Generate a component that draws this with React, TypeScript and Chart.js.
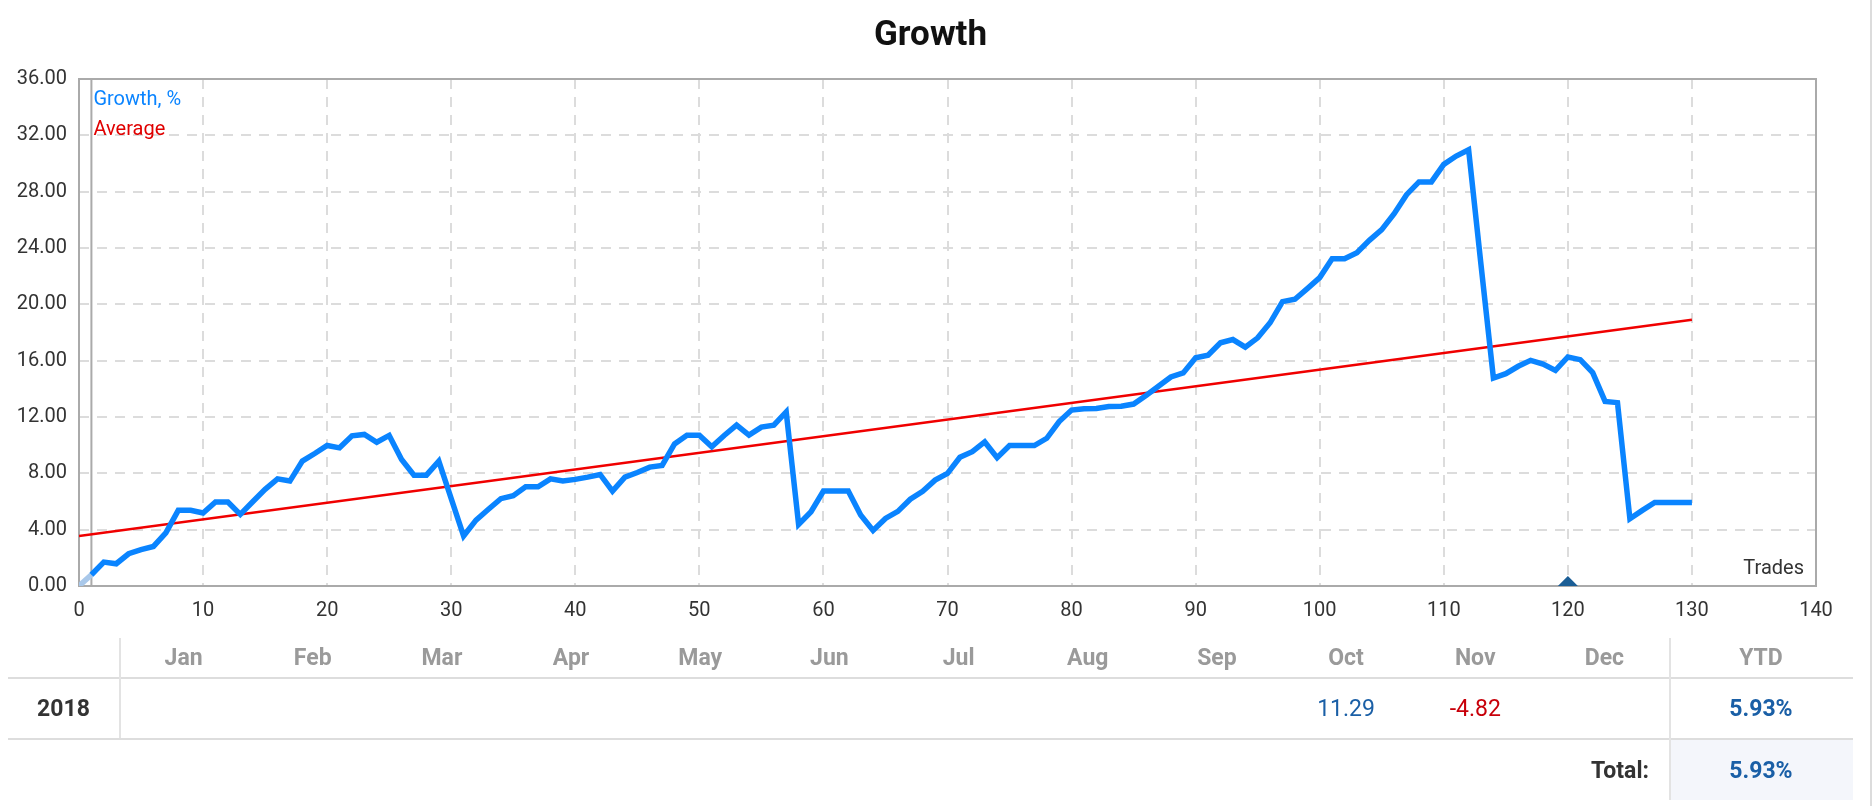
import React, { useEffect, useRef } from "react";
import { Chart, registerables } from "chart.js";

Chart.register(...registerables);

// ---------- data ----------
const chartTitle = "Growth";
const growthLabel = "Growth, %";
const averageLabel = "Average";
const xAxisLabel = "Trades";

const growth: number[] = [
  0, 0.8, 1.7, 1.58, 2.29, 2.58, 2.81, 3.78, 5.37, 5.37,
  5.18, 5.96, 5.96, 5.08, 5.98, 6.86, 7.61, 7.45, 8.87, 9.41,
  9.98, 9.81, 10.66, 10.76, 10.21, 10.69, 8.98, 7.87, 7.87, 8.87,
  6.2, 3.55, 4.68, 5.45, 6.2, 6.41, 7.04, 7.04, 7.61, 7.45,
  7.57, 7.73, 7.92, 6.74, 7.73, 8.06, 8.44, 8.56, 10.09, 10.71,
  10.71, 9.88, 10.69, 11.42, 10.71, 11.28, 11.42, 12.36, 4.37, 5.27,
  6.74, 6.74, 6.74, 5.04, 3.95, 4.8, 5.3, 6.16, 6.73, 7.52,
  7.99, 9.14, 9.54, 10.23, 9.11, 9.97, 9.97, 9.97, 10.49, 11.68,
  12.49, 12.58, 12.6, 12.75, 12.77, 12.92, 13.53, 14.18, 14.84, 15.13,
  16.2, 16.39, 17.27, 17.5, 16.96, 17.62, 18.69, 20.19, 20.36, 21.12,
  21.9, 23.24, 23.24, 23.67, 24.54, 25.3, 26.44, 27.79, 28.69, 28.69,
  29.94, 30.53, 30.98, 22.8, 14.77, 15.08, 15.6, 16.02, 15.76, 15.31,
  16.26, 16.07, 15.15, 13.11, 13.02, 4.78, 5.37, 5.93, 5.93, 5.93,
  5.93,
];

const averageTrades = [0, 130];
const averageValues = [3.55, 18.9];

const xMin = 0;
const xMax = 140;
const xStep = 10;
const yMin = 0;
const yMax = 36;
const yStep = 4;

const startTrade = 1;
const markerTrade = 120;

const months = ["Jan", "Feb", "Mar", "Apr", "May", "Jun", "Jul", "Aug", "Sep", "Oct", "Nov", "Dec"];
const yearLabel = "2018";
const monthValues: (number | null)[] = [null, null, null, null, null, null, null, null, null, 11.29, -4.82, null];
const ytdLabel = "YTD";
const ytdValue = "5.93%";
const totalLabel = "Total:";
const totalValue = "5.93%";

// ---------- styles ----------
const BLUE = "#0a84ff";
const BLUE_LIGHT = "#a9c8ea";
const RED = "#f00000";
const AXIS = "#aaaaaa";
const TEXT = "#333333";
const FONT = "Roboto";

const CANVAS_W = 1845;
const CANVAS_H = 636;

const overlayPlugin = {
  id: "overlayPlugin",
  beforeDatasetsDraw(chart: any) {
    const { ctx, chartArea: a, scales } = chart;
    ctx.save();
    ctx.strokeStyle = AXIS;
    ctx.lineWidth = 2;
    ctx.strokeRect(a.left, a.top, a.right - a.left, a.bottom - a.top);
    const xs = scales.x.getPixelForValue(startTrade);
    ctx.beginPath();
    ctx.moveTo(xs, a.top);
    ctx.lineTo(xs, a.bottom);
    ctx.stroke();
    ctx.restore();
  },
  afterDatasetsDraw(chart: any) {
    const { ctx, chartArea: a, scales, width } = chart;
    ctx.save();
    ctx.font = `bold 35px ${FONT}`;
    ctx.fillStyle = "#111111";
    ctx.textAlign = "center";
    ctx.textBaseline = "middle";
    ctx.fillText(chartTitle, width / 2, 28);

    const xs = scales.x.getPixelForValue(startTrade);
    ctx.font = `20px ${FONT}`;
    ctx.textAlign = "left";
    ctx.fillStyle = BLUE;
    ctx.fillText(growthLabel, xs + 2, a.top + 21);
    ctx.fillStyle = "#e00000";
    ctx.fillText(averageLabel, xs + 2, a.top + 51);

    ctx.font = `20px ${FONT}`;
    ctx.fillStyle = TEXT;
    ctx.textAlign = "right";
    ctx.fillText(xAxisLabel, a.right - 12, a.bottom - 17);

    const xm = scales.x.getPixelForValue(markerTrade);
    ctx.fillStyle = "#1b5e96";
    ctx.beginPath();
    ctx.moveTo(xm - 10, a.bottom);
    ctx.lineTo(xm + 10, a.bottom);
    ctx.lineTo(xm, a.bottom - 10);
    ctx.closePath();
    ctx.fill();
    ctx.restore();
  },
};

function GrowthChart() {
  const ref = useRef<HTMLCanvasElement | null>(null);
  useEffect(() => {
    if (!ref.current) return;
    const chart = new Chart(ref.current, {
      type: "line",
      data: {
        datasets: [
          {
            label: averageLabel,
            data: averageTrades.map((t, i) => ({ x: t, y: averageValues[i] })),
            borderColor: RED,
            borderWidth: 2.5,
            pointRadius: 0,
            tension: 0,
            order: 2,
          },
          {
            label: growthLabel,
            data: growth.map((v, i) => ({ x: i, y: v })),
            borderColor: BLUE,
            borderWidth: 5.5,
            pointRadius: 0,
            tension: 0,
            order: 1,
            segment: {
              borderColor: (c: any) => (c.p0DataIndex < startTrade ? BLUE_LIGHT : BLUE),
            },
          },
        ],
      },
      options: {
        responsive: false,
        animation: false,
        layout: { padding: { left: 9, right: 37, top: 71, bottom: 8 } },
        plugins: {
          legend: { display: false },
          tooltip: { enabled: false },
          title: { display: false },
        },
        scales: {
          x: {
            type: "linear",
            min: xMin,
            max: xMax,
            ticks: { stepSize: xStep, color: TEXT, font: { family: FONT, size: 20 }, padding: 13 },
            grid: { color: "#dcdcdc", lineWidth: 2, drawTicks: false },
            border: { display: false, dash: [10, 8] },
          },
          y: {
            min: yMin,
            max: yMax,
            ticks: {
              stepSize: yStep,
              color: TEXT,
              font: { family: FONT, size: 20 },
              padding: 12,
              callback: (v: any) => Number(v).toFixed(2),
            },
            grid: { color: "#dcdcdc", lineWidth: 2, drawTicks: false },
            border: { display: false, dash: [10, 8] },
            afterFit: (s: any) => {
              s.width = 62;
            },
          },
        },
      },
      plugins: [overlayPlugin],
    } as any);
    return () => chart.destroy();
  }, []);
  return (
    <canvas ref={ref} width={CANVAS_W} height={CANVAS_H} style={{ display: "block" }} aria-label={chartTitle} />
  );
}

const FIRST_W = 111;
const MONTH_W = 1550 / 12;
const YTD_X = FIRST_W + 12 * MONTH_W;
const YTD_W = CANVAS_W - YTD_X;
const LINE = "#dddddd";

function Cell(props: { left: number; top: number; width: number; height: number; children?: React.ReactNode; style?: React.CSSProperties; align?: string }) {
  return (
    <div
      style={{
        position: "absolute",
        left: props.left,
        top: props.top,
        width: props.width,
        height: props.height,
        display: "flex",
        alignItems: "center",
        justifyContent: props.align || "center",
        boxSizing: "border-box",
        ...props.style,
      }}
    >
      {props.children}
    </div>
  );
}

function Table() {
  const T0 = 0;
  const headH = 39;
  const r1 = T0 + headH + 2;
  const rowH = 59;
  const r2 = r1 + rowH + 2;
  const totH = 60;
  const base: React.CSSProperties = { fontFamily: FONT, fontSize: 23 };
  return (
    <div style={{ position: "relative", width: CANVAS_W, height: r2 + totH, marginTop: -6, ...base }}>
      <div style={{ position: "absolute", left: 0, top: T0 + headH, width: CANVAS_W, height: 2, background: LINE }} />
      <div style={{ position: "absolute", left: 0, top: r1 + rowH, width: CANVAS_W, height: 2, background: LINE }} />
      <div style={{ position: "absolute", left: YTD_X + 1, top: r2, width: YTD_W - 1, height: totH, background: "#f4f6fb" }} />
      <div style={{ position: "absolute", left: FIRST_W, top: T0, width: 2, height: r1 + rowH - T0, background: "#e3e3e3" }} />
      <div style={{ position: "absolute", left: YTD_X, top: T0, width: 2, height: r2 + totH - T0, background: "#e3e3e3" }} />

      {months.map((m, i) => (
        <Cell key={m} left={FIRST_W + i * MONTH_W} top={T0} width={MONTH_W} height={headH} style={{ color: "#9a9a9a", fontWeight: 700 }}>
          {m}
        </Cell>
      ))}
      <Cell left={YTD_X} top={T0} width={YTD_W} height={headH} style={{ color: "#9a9a9a", fontWeight: 700 }}>
        {ytdLabel}
      </Cell>

      <Cell left={0} top={r1} width={FIRST_W} height={rowH} style={{ color: TEXT, fontWeight: 700 }}>
        {yearLabel}
      </Cell>
      {monthValues.map((v, i) =>
        v === null ? null : (
          <Cell key={i} left={FIRST_W + i * MONTH_W} top={r1} width={MONTH_W} height={rowH} style={{ color: v >= 0 ? "#1a5fa6" : "#c8000a" }}>
            {v.toFixed(2)}
          </Cell>
        )
      )}
      <Cell left={YTD_X} top={r1} width={YTD_W} height={rowH} style={{ color: "#1a5fa6", fontWeight: 700 }}>
        {ytdValue}
      </Cell>

      <Cell left={0} top={r2} width={YTD_X - 20} height={totH} align="flex-end" style={{ color: TEXT, fontWeight: 700 }}>
        {totalLabel}
      </Cell>
      <Cell left={YTD_X} top={r2} width={YTD_W} height={totH} style={{ color: "#1a5fa6", fontWeight: 700 }}>
        {totalValue}
      </Cell>
    </div>
  );
}

export default function App() {
  return (
    <div style={{ width: CANVAS_W }}>
      <GrowthChart />
      <Table />
      <div style={{ position: "fixed", left: 1870, top: 0, width: 2, height: 806, background: "#dcdcdc" }} />
    </div>
  );
}
